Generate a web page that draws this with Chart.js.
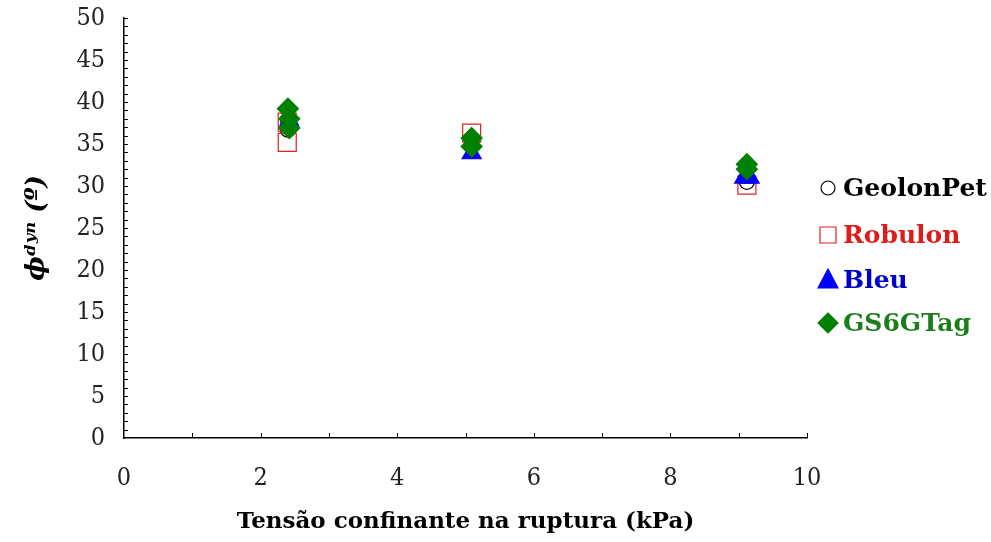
<!DOCTYPE html>
<html>
<head>
<meta charset="utf-8">
<script src="https://cdn.jsdelivr.net/npm/chart.js@4.4.0/dist/chart.umd.min.js"></script>
<style>
  html, body { margin: 0; padding: 0; background: #fff; }
  #wrap { width: 991px; height: 542px; }
</style>
</head>
<body>
<div id="wrap"><canvas id="myChart"></canvas></div>
<script>
// series names and their points [tensao, phi]
const seriesNames = ['GeolonPet', 'Robulon', 'Bleu', 'GS6GTag'];
const geolonPet = [[2.40, 37.9], [2.40, 36.7], [5.09, 35.5], [5.09, 34.8], [9.12, 30.5]];
const robulon = [[2.39, 37.6], [2.39, 35.2], [5.09, 36.3], [9.12, 30.1]];
const bleu = [[2.42, 37.8], [5.09, 33.9], [9.08, 31.0], [9.16, 31.0]];
const gs6gtag = [[2.40, 39.2], [2.42, 38.0], [2.42, 36.9], [5.09, 35.7], [5.09, 34.7], [9.12, 32.6], [9.12, 32.0]];

const xTicks = [0, 2, 4, 6, 8, 10];
const yTicks = [0, 5, 10, 15, 20, 25, 30, 35, 40, 45, 50];

const serif = "'DejaVu Serif', 'Liberation Serif', serif";
const tickFont = "'DejaVu Serif Condensed', 'Liberation Serif', serif";

function toPoints(arr) {
    return arr.map(p => ({x: p[0], y: p[1]}));
}

const styles = [
    {pointStyle: 'circle', radius: 7.5, border: '#000000', fill: 'rgba(255,255,255,0)', text: '#000000'},
    {pointStyle: 'rect', radius: 12.7, border: '#dd2222', fill: 'rgba(255,255,255,0)', text: '#dd1c1c'},
    {pointStyle: 'triangle', radius: 11, border: '#0000ff', fill: '#0000ff', text: '#0000cc'},
    {pointStyle: 'rectRot', radius: 10.5, border: '#008000', fill: '#008000', text: '#1a7f1a'}
];
const allData = [geolonPet, robulon, bleu, gs6gtag];

// later series on top, like the original
const datasets = allData.map((d, i) => ({
    label: seriesNames[i],
    data: toPoints(d),
    order: allData.length - i,
    pointStyle: styles[i].pointStyle,
    pointRadius: styles[i].radius,
    pointHoverRadius: styles[i].radius,
    pointBorderWidth: 1.2,
    borderColor: styles[i].border,
    backgroundColor: styles[i].fill,
    showLine: false
}));

// inward tick marks on both axes
const innerTicks = {
    id: 'innerTicks',
    afterDraw(chart) {
        const ctx = chart.ctx;
        const xs = chart.scales.x, ys = chart.scales.y;
        const area = chart.chartArea;
        ctx.save();
        ctx.strokeStyle = '#000';
        ctx.lineWidth = 1;
        for (let v = 1; v <= 10; v++) {
            const px = Math.round(xs.getPixelForValue(v)) + 0.5;
            ctx.beginPath();
            ctx.moveTo(px, area.bottom);
            ctx.lineTo(px, area.bottom - 5);
            ctx.stroke();
        }
        for (let v = 1; v <= 50; v++) {
            const py = Math.round(ys.getPixelForValue(v)) + 0.5;
            ctx.beginPath();
            ctx.moveTo(area.left, py);
            ctx.lineTo(area.left + 4, py);
            ctx.stroke();
        }
        ctx.restore();
    }
};

function drawMarker(ctx, style, x, y) {
    ctx.save();
    ctx.lineWidth = 1.2;
    ctx.strokeStyle = style.border;
    ctx.fillStyle = style.fill;
    ctx.beginPath();
    if (style.pointStyle === 'circle') {
        ctx.arc(x, y, 7, 0, Math.PI * 2);
    } else if (style.pointStyle === 'rect') {
        ctx.rect(x - 8, y - 8, 16, 16);
    } else if (style.pointStyle === 'triangle') {
        ctx.moveTo(x, y - 11);
        ctx.lineTo(x + 10, y + 8);
        ctx.lineTo(x - 10, y + 8);
        ctx.closePath();
    } else {
        ctx.moveTo(x, y - 10);
        ctx.lineTo(x + 10, y);
        ctx.lineTo(x, y + 10);
        ctx.lineTo(x - 10, y);
        ctx.closePath();
    }
    ctx.fill();
    ctx.stroke();
    ctx.restore();
}

const sideLegend = {
    id: 'sideLegend',
    afterDraw(chart) {
        const ctx = chart.ctx;
        const rows = [188, 235, 280, 323];
        ctx.save();
        ctx.font = "bold 25px " + serif;
        ctx.textBaseline = 'middle';
        ctx.textAlign = 'left';
        chart.data.datasets.forEach((ds, i) => {
            drawMarker(ctx, styles[i], 828, rows[i]);
            ctx.fillStyle = styles[i].text;
            ctx.fillText(ds.label, 843, rows[i] + 1);
        });
        ctx.restore();
    }
};

const ctx = document.getElementById('myChart').getContext('2d');
const myChart = new Chart(ctx, {
    type: 'scatter',
    data: {datasets: datasets},
    options: {
        responsive: true,
        maintainAspectRatio: false,
        animation: false,
        layout: {padding: {top: 18, right: 184, left: 0, bottom: 0}},
        plugins: {
            legend: {display: false},
            tooltip: {enabled: false}
        },
        scales: {
            x: {
                type: 'linear',
                min: 0,
                max: 10,
                afterFit: s => { s.height = 104; s.paddingLeft = 0; s.paddingRight = 0; },
                afterBuildTicks: s => { s.ticks = xTicks.map(v => ({value: v})); },
                grid: {display: false},
                border: {display: true, color: '#000', width: 1.5},
                ticks: {color: '#222', padding: 17, font: {family: tickFont, size: 25}, maxRotation: 0},
                title: {
                    display: true,
                    text: 'Tensão confinante na ruptura (kPa)',
                    color: '#000',
                    font: {family: serif, size: 23, weight: 'bold'},
                    padding: {top: 0, bottom: 6}
                }
            },
            y: {
                type: 'linear',
                min: 0,
                max: 50,
                afterFit: s => { s.width = 124; s.paddingTop = 0; s.paddingBottom = 0; },
                afterBuildTicks: s => { s.ticks = yTicks.map(v => ({value: v})); },
                grid: {display: false},
                border: {display: true, color: '#000', width: 1.5},
                ticks: {color: '#222', padding: 11, font: {family: tickFont, size: 25}},
                title: {
                    display: true,
                    text: 'ϕᵈʸⁿ (º)',
                    color: '#000',
                    font: {family: serif, size: 26, weight: 'bold', style: 'italic'},
                    padding: {top: 22, bottom: 0}
                }
            }
        }
    },
    plugins: [innerTicks, sideLegend]
});
</script>
</body>
</html>
